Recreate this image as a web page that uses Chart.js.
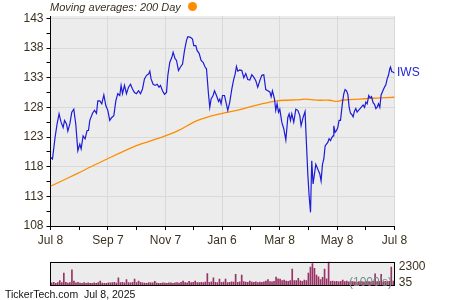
<!DOCTYPE html>
<html><head><meta charset="utf-8">
<script src="https://cdn.jsdelivr.net/npm/chart.js@4.4.1/dist/chart.umd.min.js"></script>
<style>
html,body{margin:0;padding:0;background:#fff;width:450px;height:300px;overflow:hidden;font-family:"Liberation Sans",Arial,sans-serif;}
#main{position:absolute;left:0;top:0;}
#vol{position:absolute;left:0;top:250px;}
.t{position:absolute;white-space:nowrap;line-height:1;}
</style></head><body>
<canvas id="main" width="450" height="250"></canvas>
<canvas id="vol" width="450" height="50"></canvas>
<div class="t" style="left:50px;top:2px;font-size:11px;font-style:italic;color:#3b3020;">Moving averages: 200 Day</div>
<div style="position:absolute;left:187.5px;top:2.2px;width:9px;height:9px;border-radius:50%;background:#ff8c00;"></div>
<div class="t" style="left:397px;top:65.5px;font-size:12px;color:#2323d8;">IWS</div>
<div class="t" style="left:349px;top:276px;font-size:12px;color:#6f8f7f;">(1000's)</div>
<div class="t" style="left:5px;top:289px;font-size:10.5px;color:#111;">TickerTech.com&nbsp;&nbsp;Jul 8, 2025</div>
<script>
// x positions: days since Jul 8, 2024
const tickDays = [0, 61, 122, 182, 243, 304, 365];
const tickLabels = ['Jul 8', 'Sep 7', 'Nov 7', 'Jan 6', 'Mar 8', 'May 8', 'Jul 8'];
const minorDays = [30.5, 91.5, 152, 212.5, 273.5, 334.5];
const yMajor = [108, 113, 118, 123, 128, 133, 138, 143];
const yMinor = [110.5, 115.5, 120.5, 125.5, 130.5, 135.5, 140.5];
const volLabels = [35, 2300];

const priceDays = [
0,2.1,4.9,7.0,9.1,11.2,13.4,14.9,17.0,18.4,20.5,22.6,24.7,26.8,29.0,31.1,32.5,34.6,36.7,38.8,40.3,41.7,44.6,46.7,48.8,50.2,52.3,54.4,56.6,58.7,
60.8,62.9,65.0,67.2,69.3,71.4,73.5,74.9,76.4,78.5,80.6,82.8,84.9,87.0,89.1,91.2,93.4,95.5,97.6,99.7,101.9,104.0,105.4,106.7,108.9,111.0,113.1,115.2,116.7,118.8,121.0,123.1,
124.5,126.6,128.7,130.1,132.2,133.7,135.8,137.9,140.1,142.2,144.3,145.7,148.5,150.7,152.0,154.2,155.5,157.7,159.8,161.9,164.0,165.5,167.6,169.0,170.4,172.5,174.0,176.1,178.3,179.6,181.0,182.5,184.6,186.0,
188.1,190.2,192.4,194.5,195.9,197.3,198.7,200.8,203.0,205.1,207.2,209.3,211.5,213.6,215.7,217.8,219.9,222.1,224.2,226.3,228.4,230.6,232.7,234.1,235.5,237.7,239.0,240.4,241.9,243.3,
245.4,247.5,249.7,251.8,253.2,254.6,256.0,258.1,260.3,262.4,264.5,265.9,268.0,270.1,271.6,273.0,274.4,275.9,277.2,278.6,280.1,281.5,282.8,284.3,285.7,287.1,288.6,290.0,291.4,292.8,294.2,295.6,297.1,298.5,299.8,300.6,302.0,303.5,304.8,306.2,307.7,
309.8,311.2,312.6,314.1,315.5,316.9,318.3,319.7,321.1,322.6,324.0,325.3,327.5,329.6,331.7,333.2,334.6,336.0,337.7,339.1,340.6,342.3,343.8,345.2,346.5,348.0,349.4,350.8,352.9,354.7,355.8,357.2,358.6,360.0,360.8,362.1,362.9,365
];
const prices = [
119.6,119.3,123.0,125.2,126.9,125.5,124.6,125.8,125.2,124.0,125.2,127.2,127.7,125.2,120.7,121.8,121.0,123.2,122.7,124.1,124.1,125.8,127.0,127.5,127.0,129.1,129.1,128.6,130.1,128.3,
127.5,125.8,126.3,126.6,129.1,130.3,130.0,131.7,130.3,131.7,130.3,131.4,131.9,131.1,130.5,130.3,130.8,130.3,131.1,132.8,133.4,133.6,134.1,132.8,131.9,131.7,131.9,131.4,131.7,130.8,130.2,130.5,
133.4,135.6,136.4,137.3,136.2,135.9,134.2,134.8,135.3,137.6,139.3,139.9,139.8,139.5,138.4,138.4,137.6,137.1,135.9,135.6,134.8,134.5,130.3,128.0,129.4,130.0,130.8,130.0,129.0,129.4,128.6,130.0,130.0,129.0,
127.5,128.9,131.1,132.8,133.6,134.9,134.1,134.3,134.2,133.0,133.7,132.7,132.6,133.5,133.1,132.5,131.4,132.5,133.4,133.5,131.0,130.8,130.6,129.8,130.8,129.4,127.5,128.6,127.2,127.7,
125.5,124.4,122.5,126.3,126.9,125.8,126.9,125.5,127.7,127.5,126.6,124.9,126.3,127.3,121.8,116.8,113.1,110.3,119.0,115.1,116.8,118.4,117.9,117.3,116.8,115.6,118.4,119.3,121.5,121.8,122.1,122.7,122.4,122.9,123.2,124.9,123.8,124.1,124.6,125.8,125.8,
128.8,130.3,131.0,130.8,130.2,128.0,127.0,126.8,126.4,127.4,127.8,127.2,127.6,128.0,128.4,128.0,128.9,128.6,130.0,129.6,129.8,128.8,128.5,127.8,128.0,128.6,128.0,130.1,130.9,131.5,131.8,132.8,133.4,134.5,134.8,134.0,134.0,133.8
];

const maDays = [0,29.3,41.7,60,87.6,105.4,122,137.2,153,169,182.5,200.8,211.5,222,232.7,239.8,248.6,264.5,270,277,285.7,296.3,303.8,309,317,328,338.8,349.4,365];
const maValues = [114.7,116.9,117.9,119.3,121.3,122.3,123.2,124.2,125.6,126.5,127.0,127.6,128.1,128.5,128.9,129.1,129.2,129.3,129.4,129.3,129.2,129.2,129.0,129.2,129.3,129.4,129.5,129.6,129.7];

// volume (thousands), evenly spaced through the year
const volume = [
250,300,200,280,500,260,1340,300,220,260,
1700,450,250,300,220,200,260,180,230,200,
180,240,200,260,450,220,200,180,250,230,
260,300,220,800,280,300,250,600,280,240,
300,650,260,450,300,250,220,200,260,230,
250,400,220,200,180,240,220,200,230,250,
200,240,260,220,300,450,280,250,400,260,
300,450,280,260,300,280,320,1280,300,350,
800,300,280,650,300,320,650,280,300,350,
320,1190,300,350,1100,380,320,300,450,320,
300,350,280,320,300,350,450,600,380,350,
420,870,700,650,500,550,450,420,500,1790,
480,500,750,460,420,550,500,1340,2000,2390,
1850,1100,900,600,850,1790,700,2600,400,450,
380,420,350,400,550,380,450,350,400,380,
350,300,380,420,350,330,400,380,350,420,
1250,380,400,1200,350,420,380,400,2000,450
];

const FONT = {family: '"Liberation Sans", Arial, sans-serif', size: 12};
const LBL = '#3b3020';

const bgPlugin = {
  id: 'bg',
  beforeDraw(c) {
    const a = c.chartArea, ctx = c.ctx;
    ctx.save(); ctx.fillStyle = '#ececec';
    ctx.fillRect(a.left, a.top, a.right - a.left, a.bottom - a.top);
    ctx.restore();
  }
};
const boxPlugin = {
  id: 'box',
  afterDraw(c) {
    const a = c.chartArea, ctx = c.ctx;
    ctx.save(); ctx.strokeStyle = '#000'; ctx.lineWidth = 1;
    ctx.strokeRect(Math.round(a.left) - 0.5, Math.round(a.top) + 0.5, Math.round(a.right - a.left), Math.round(a.bottom - a.top));
    ctx.restore();
  }
};

new Chart(document.getElementById('main'), {
  type: 'line',
  data: {
    datasets: [
      {data: priceDays.map((d, i) => ({x: d, y: prices[i]})), borderColor: '#1c1cd8', borderWidth: 1.2, pointRadius: 0, tension: 0, order: 1},
      {data: maDays.map((d, i) => ({x: d, y: maValues[i]})), borderColor: '#ff8c00', borderWidth: 1.3, pointRadius: 0, tension: 0.3, order: 2}
    ]
  },
  options: {
    responsive: false, animation: false, devicePixelRatio: 1,
    layout: {padding: {top: 16, right: 55.5, left: 0, bottom: 0}},
    plugins: {legend: {display: false}, tooltip: {enabled: false}},
    scales: {
      x: {
        type: 'linear', min: 0, max: 365,
        afterBuildTicks(s) { s.ticks = tickDays.concat(minorDays).sort((a, b) => a - b).map(v => ({value: v})); },
        afterFit(s) { s.height = 24; },
        ticks: {autoSkip: false, maxRotation: 0, font: FONT, color: LBL, padding: 3,
          callback(v) { const i = tickDays.indexOf(v); return i >= 0 ? tickLabels[i] : ''; }},
        grid: {color: ctx => (ctx.tick && tickDays.includes(ctx.tick.value)) ? '#d9d9d9' : 'rgba(0,0,0,0)',
          tickColor: '#000', tickLength: 4, lineWidth: 1},
        border: {color: '#000', width: 1}
      },
      y: {
        min: 108, max: 143.4,
        afterBuildTicks(s) { s.ticks = yMajor.concat(yMinor).sort((a, b) => a - b).map(v => ({value: v})); },
        afterFit(s) { s.width = 50.5; },
        ticks: {autoSkip: false, font: FONT, color: LBL, padding: 3,
          callback(v) { return yMajor.includes(v) ? String(v) : ''; }},
        grid: {color: ctx => (ctx.tick && yMajor.includes(ctx.tick.value) && ctx.tick.value !== 108) ? '#d9d9d9' : 'rgba(0,0,0,0)',
          tickColor: '#000', tickLength: 4, lineWidth: 1},
        border: {color: '#000', width: 1}
      }
    }
  },
  plugins: [bgPlugin]
});

new Chart(document.getElementById('vol'), {
  type: 'bar',
  data: {
    labels: volume.map((_, i) => i),
    datasets: [{data: volume, backgroundColor: '#993366', barThickness: 1, yAxisID: 'y'}]
  },
  options: {
    responsive: false, animation: false, devicePixelRatio: 1,
    layout: {padding: {left: 50.7, top: 6, bottom: 15, right: 0}},
    plugins: {legend: {display: false}, tooltip: {enabled: false}},
    scales: {
      x: {display: false},
      y: {display: false, min: 0, max: 2600},
      yl: {
        position: 'right', min: -358, max: 3098,
        afterBuildTicks(s) { s.ticks = volLabels.map(v => ({value: v})); },
        afterFit(s) { s.width = 450 - 394.3; },
        ticks: {font: FONT, color: LBL, padding: 4.5, callback: v => String(v)},
        grid: {display: false, drawTicks: false},
        border: {display: false}
      }
    }
  },
  plugins: [bgPlugin, boxPlugin]
});
</script>
</body></html>
